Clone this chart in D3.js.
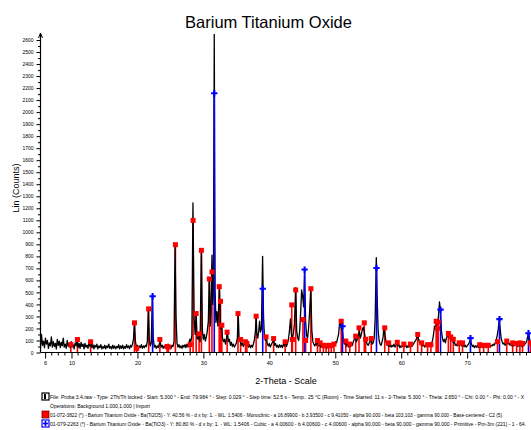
<!DOCTYPE html>
<html lang="en">
<head>
<meta charset="UTF-8">
<title>Barium Titanium Oxide</title>
<script src="https://d3js.org/d3.v7.min.js"></script>
<style>
  body { margin: 0; background: #fff; }
  text { font-family: "Liberation Sans", Arial, sans-serif; fill: #000; }
  .axis .domain { stroke: #000; stroke-width: 1.2; }
  .axis line { stroke: #000; }
</style>
</head>
<body>
<svg id="chart" width="531" height="430"></svg>
<script>
// measured scan: [2-theta, counts]
const scan = [
  [5.3,40],[5.45,150],[5.6,60],[5.75,95],[5.9,40],[6.05,120],[6.2,70],[6.35,100],[6.5,35],[6.65,80],[6.8,55],[6.95,130],
  [7.1,45],[7.25,90],[7.4,50],[7.55,75],[7.7,30],[7.85,110],[8.0,60],[8.15,95],[8.3,40],[8.45,85],[8.6,55],[8.75,120],
  [8.9,45],[9.05,70],[9.2,35],[9.35,100],[9.5,50],[9.65,75],[9.8,40],[9.95,90],[10.1,45],[10.25,65],[10.4,30],[10.55,80],
  [10.7,55],[10.85,110],[11.0,40],[11.15,75],[11.3,35],[11.45,85],[11.6,50],[11.75,70],[11.9,30],[12.05,75],[12.2,45],
  [12.35,60],[12.5,35],[12.65,90],[12.8,50],[12.95,95],[13.1,40],[13.25,65],[13.4,30],[13.55,60],[13.7,45],[13.85,70],
  [14.0,30],[14.15,55],[14.3,40],[14.45,65],[14.6,30],[14.75,50],[14.9,35],[15.05,60],[15.2,30],[15.35,55],[15.5,40],
  [15.65,70],[15.8,35],[15.95,50],[16.1,30],[16.25,60],[16.4,35],[16.55,55],[16.7,30],[16.85,50],[17.0,40],[17.15,65],
  [17.3,30],[17.45,55],[17.6,35],[17.75,60],[17.9,30],[18.05,50],[18.2,35],[18.35,65],[18.5,40],[18.65,55],[18.8,30],
  [18.95,60],[19.1,45],[19.25,70],[19.4,110],[19.55,250],[19.7,90],[19.85,40],[20.0,60],[20.15,35],[20.3,55],[20.45,40],
  [20.6,65],[20.75,35],[20.9,55],[21.05,40],[21.2,60],[21.35,50],[21.5,90],[21.65,370],[21.8,110],[21.95,55],[22.1,80],
  [22.25,455],[22.4,120],[22.55,45],[22.7,60],[22.85,35],[23.0,55],[23.15,40],[23.3,70],[23.45,90],[23.6,45],[23.75,60],
  [23.9,35],[24.05,55],[24.2,40],[24.35,60],[24.5,50],[24.65,70],[24.8,40],[24.95,55],[25.1,35],[25.25,60],[25.4,50],
  [25.55,90],[25.7,880],[25.85,300],[26.0,80],[26.15,45],[26.3,65],[26.45,40],[26.6,55],[26.75,35],[26.9,60],[27.05,45],
  [27.2,65],[27.35,40],[27.5,70],[27.65,45],[27.8,80],[27.95,110],[28.1,90],[28.25,140],[28.42,1245],[28.6,280],
  [28.75,150],[28.9,330],[29.05,120],[29.2,110],[29.35,160],[29.5,90],[29.7,860],[29.85,180],[30.0,110],[30.15,150],
  [30.3,95],[30.45,130],[30.6,180],[30.75,260],[30.9,620],[31.05,220],[31.15,330],[31.3,810],[31.42,400],[31.52,500],
  [31.65,2650],[31.78,520],[31.9,250],[32.05,340],[32.2,220],[32.35,420],[32.45,550],[32.6,200],[32.75,230],[32.9,120],
  [33.05,90],[33.2,110],[33.35,70],[33.5,120],[33.65,170],[33.8,90],[33.95,110],[34.1,60],[34.25,85],[34.4,50],[34.55,70],
  [34.7,45],[34.85,60],[35.0,80],[35.15,120],[35.28,330],[35.42,110],[35.6,90],[35.75,60],[35.9,80],[36.05,50],[36.2,70],
  [36.4,100],[36.55,60],[36.7,80],[36.85,45],[37.0,65],[37.15,40],[37.3,60],[37.45,45],[37.6,75],[37.75,110],[37.9,180],
  [38.0,310],[38.12,150],[38.25,120],[38.4,180],[38.52,260],[38.65,170],[38.8,200],[38.98,800],[39.12,300],[39.25,140],
  [39.4,100],[39.55,130],[39.7,70],[39.85,55],[40.0,75],[40.15,45],[40.3,65],[40.5,90],[40.65,120],[40.8,60],[40.95,75],
  [41.1,45],[41.25,60],[41.4,40],[41.55,65],[41.7,45],[41.85,60],[42.0,40],[42.15,70],[42.3,55],[42.45,90],[42.6,50],
  [42.75,75],[42.9,110],[43.05,180],[43.2,280],[43.35,150],[43.5,110],[43.65,160],[43.8,230],[44.0,540],[44.15,180],
  [44.3,120],[44.45,100],[44.6,180],[44.75,330],[44.9,520],[45.05,470],[45.2,380],[45.35,670],[45.5,260],[45.65,140],
  [45.8,120],[45.95,200],[46.1,330],[46.28,530],[46.45,180],[46.6,90],[46.75,70],[46.9,55],[47.05,75],[47.2,60],[47.35,95],
  [47.5,55],[47.65,70],[47.8,45],[47.95,60],[48.1,40],[48.25,65],[48.4,45],[48.55,55],[48.7,35],[48.85,60],[49.0,45],
  [49.15,55],[49.3,40],[49.45,65],[49.6,50],[49.75,70],[49.9,60],[50.05,90],[50.2,80],[50.35,120],[50.5,150],[50.65,240],
  [50.78,270],[50.92,200],[51.1,180],[51.25,90],[51.4,70],[51.55,90],[51.7,55],[51.85,70],[52.0,45],[52.15,65],[52.3,50],
  [52.45,80],[52.6,60],[52.75,95],[52.9,110],[53.05,130],[53.2,90],[53.35,110],[53.5,140],[53.65,180],[53.8,120],
  [53.95,150],[54.1,190],[54.25,210],[54.4,170],[54.55,120],[54.7,90],[54.85,70],[55.0,60],[55.15,80],[55.3,95],
  [55.45,110],[55.6,70],[55.75,80],[55.9,120],[56.05,280],[56.22,790],[56.38,400],[56.5,180],[56.65,100],[56.8,70],
  [56.95,60],[57.1,90],[57.25,130],[57.4,220],[57.55,140],[57.7,90],[57.85,60],[58.0,75],[58.15,50],[58.3,65],[58.45,45],
  [58.6,60],[58.75,50],[58.9,70],[59.05,45],[59.2,60],[59.35,85],[59.5,55],[59.65,65],[59.8,40],[59.95,55],[60.1,45],
  [60.25,60],[60.4,70],[60.55,50],[60.7,60],[60.85,40],[61.0,55],[61.15,45],[61.3,60],[61.45,70],[61.6,50],[61.75,60],
  [61.9,75],[62.05,90],[62.2,100],[62.35,120],[62.5,150],[62.65,110],[62.8,80],[62.95,70],[63.1,80],[63.25,55],[63.4,65],
  [63.55,45],[63.7,60],[63.85,50],[64.0,65],[64.15,50],[64.3,70],[64.45,60],[64.6,80],[64.75,100],[64.9,150],[65.05,220],
  [65.2,200],[65.35,260],[65.5,230],[65.65,300],[65.8,420],[65.95,350],[66.1,180],[66.25,120],[66.4,90],[66.55,110],
  [66.7,80],[66.85,120],[67.0,140],[67.15,150],[67.3,120],[67.45,130],[67.6,100],[67.75,110],[67.9,80],[68.05,90],
  [68.2,60],[68.35,70],[68.5,55],[68.65,70],[68.8,60],[68.95,80],[69.1,55],[69.25,75],[69.4,60],[69.55,50],[69.7,60],
  [69.85,45],[70.0,55],[70.15,65],[70.3,80],[70.5,110],[70.65,70],[70.8,50],[70.95,60],[71.1,40],[71.25,55],[71.4,45],
  [71.55,60],[71.7,40],[71.85,55],[72.0,45],[72.15,60],[72.3,40],[72.45,55],[72.6,45],[72.75,60],[72.9,40],[73.05,55],
  [73.2,50],[73.35,65],[73.5,45],[73.65,60],[73.8,55],[73.95,70],[74.1,60],[74.25,80],[74.4,100],[74.55,140],[74.7,190],
  [74.88,270],[75.0,200],[75.15,120],[75.3,90],[75.45,70],[75.6,80],[75.75,60],[75.9,75],[76.05,90],[76.2,70],[76.35,80],
  [76.5,60],[76.65,75],[76.8,55],[76.95,70],[77.1,55],[77.25,75],[77.4,60],[77.55,70],[77.7,50],[77.85,65],[78.0,55],
  [78.15,70],[78.3,50],[78.45,65],[78.6,55],[78.75,70],[78.9,80],[79.05,100],[79.2,140],[79.35,160],[79.5,100],
  [79.65,80],[79.8,60],[79.98,70]
];

// 01-072-3822 Ba(Ti2O5), monoclinic - stick pattern
const monoclinic = [
  [9.9,66],[10.9,108],[12.9,89],[19.55,247],[19.9,35],[21.7,363],[23.4,108],[24.5,50],[24.7,45],[25.76,897],[28.0,66],
  [28.44,1099],[28.9,324],[29.35,155],[29.7,850],[30.9,612],[31.3,670],[32.4,548],[32.6,426],[32.8,227],[33.6,169],
  [35.25,324],[35.65,108],[36.4,89],[36.6,75],[38.0,302],[39.5,130],[40.65,116],[42.4,89],[43.4,396],[43.5,108],[44.0,520],
  [45.1,274],[45.5,100],[46.3,531],[47.3,100],[47.7,80],[48.2,60],[48.6,55],[49.0,60],[49.4,58],[49.8,70],[50.9,260],
  [51.6,95],[52.2,70],[53.1,136],[53.6,205],[54.4,247],[54.6,110],[55.45,116],[57.5,205],[58.1,80],[59.4,85],[60.4,70],
  [61.4,70],[62.5,150],[63.1,80],[64.0,65],[64.5,65],[65.3,260],[65.5,202],[65.6,252],[67.15,158],[67.5,130],[67.9,110],
  [68.8,80],[69.3,80],[71.9,65],[72.5,60],[73.2,60],[74.6,90],[76.0,95],[76.9,80],[77.5,75],[78.0,80],[78.4,75],[79.6,80]
];

// 01-079-2263 BaTiO3, cubic - stick pattern
const cubic = [
  [22.3,468],[31.65,2157],[39.0,531],[45.35,690],[51.1,218],[56.25,703],[65.96,357],[70.5,120],[74.9,278],[79.3,160]
];

const yTicks = d3.range(0, 2601, 100);
const yMinor = d3.range(50, 2600, 100);
const xLabels = [6, 10, 20, 30, 40, 50, 60, 70];
const xMinor = d3.range(6, 80, 1);

const legendLines = [
  "File: Proba 3.4.raw - Type: 2Th/Th locked - Start: 5.300 \u00b0 - End: 79.984 \u00b0 - Step: 0.029 \u00b0 - Step time: 52.5 s - Temp.: 25 \u00b0C (Room) - Time Started: 11 s - 2-Theta: 5.300 \u00b0 - Theta: 2.650 \u00b0 - Chi: 0.00 \u00b0 - Phi: 0.00 \u00b0 - X",
  "Operations: Background 1.000,1.000 | Import",
  "01-072-3822 (*) - Barium Titanium Oxide - Ba(Ti2O5) - Y: 40.56 % - d x by: 1. - WL: 1.5406 - Monoclinic - a 16.89900 - b 3.93500 - c 9.41050 - alpha 90.000 - beta 103.103 - gamma 90.000 - Base-centered - C2 (5)",
  "01-079-2263 (*) - Barium Titanium Oxide - Ba(TiO3) - Y: 80.80 % - d x by: 1. - WL: 1.5406 - Cubic - a 4.00600 - b 4.00600 - c 4.00600 - alpha 90.000 - beta 90.000 - gamma 90.000 - Primitive - Pm-3m (221) - 1 - 64."
];

const svg = d3.select("#chart");
const x = d3.scaleLinear().domain([5.3, 79.984]).range([40.5, 533]);
const y = d3.scaleLinear().domain([0, 2600]).range([352.5, 40]);

svg.append("defs").append("clipPath").attr("id", "plotClip")
  .append("rect").attr("x", 40).attr("y", 34).attr("width", 495).attr("height", 320);

// title
svg.append("text").attr("x", 268.5).attr("y", 28).attr("text-anchor", "middle")
  .style("font-size", "16.5px").text("Barium Titanium Oxide");

const plot = svg.append("g").attr("clip-path", "url(#plotClip)");

// red sticks (under the scan)
plot.selectAll("line.mono").data(monoclinic).join("line")
  .attr("class", "mono")
  .attr("x1", d => x(d[0])).attr("x2", d => x(d[0]))
  .attr("y1", y(0)).attr("y2", d => y(d[1]))
  .attr("stroke", "#ff0000").attr("stroke-width", 1.6);

// scan
const line = d3.line().x(d => x(d[0])).y(d => y(d[1]));
plot.append("path").datum(scan)
  .attr("fill", "none").attr("stroke", "#000").attr("stroke-width", 1.3)
  .attr("stroke-linejoin", "round").attr("d", line);

// blue sticks
plot.selectAll("line.cub").data(cubic).join("line")
  .attr("class", "cub")
  .attr("x1", d => x(d[0])).attr("x2", d => x(d[0]))
  .attr("y1", y(0)).attr("y2", d => y(d[1]))
  .attr("stroke", "#0000ff").attr("stroke-width", 1.6);

// markers
plot.selectAll("rect.mono").data(monoclinic).join("rect")
  .attr("class", "mono")
  .attr("x", d => x(d[0]) - 2.5).attr("y", d => y(d[1]) - 2.5)
  .attr("width", 5).attr("height", 5).attr("fill", "#ff0000");

plot.selectAll("path.cub").data(cubic).join("path")
  .attr("class", "cub")
  .attr("d", d3.symbol().type(d3.symbolCross).size(22))
  .attr("transform", d => `translate(${x(d[0])},${y(d[1])})`)
  .attr("fill", "#0000ff");

// y axis
const yAxis = d3.axisLeft(y).tickValues(yTicks).tickSize(4).tickSizeOuter(0).tickPadding(3)
  .tickFormat(d3.format("d"));
const yG = svg.append("g").attr("class", "axis").attr("transform", "translate(40.5,0)").call(yAxis);
yG.select(".domain").attr("d", `M0,${y(0)}V34`);
yG.selectAll("text").style("font-size", "5px");
yG.selectAll("line.minor").data(yMinor).join("line").attr("class", "minor")
  .attr("x1", -2.5).attr("x2", 0).attr("y1", d => y(d) + 0.5).attr("y2", d => y(d) + 0.5).attr("stroke", "#000");
yG.append("path").attr("d", "M-2,38L0,33L2,38").attr("fill", "none").attr("stroke", "#000");

svg.append("text").attr("transform", "translate(19,188) rotate(-90)")
  .attr("text-anchor", "middle").style("font-size", "9px").text("Lin (Counts)");

// x axis
const xAxis = d3.axisBottom(x).tickValues(xLabels).tickSize(6).tickSizeOuter(0).tickPadding(3)
  .tickFormat(d3.format("d"));
const xG = svg.append("g").attr("class", "axis").attr("transform", `translate(0,${y(0)})`).call(xAxis);
xG.select(".domain").attr("d", "M40.5,0H531");
xG.selectAll("text").style("font-size", "5.5px");
xG.selectAll("line.minor").data(xMinor.filter(v => !xLabels.includes(v))).join("line").attr("class", "minor")
  .attr("x1", d => x(d)).attr("x2", d => x(d)).attr("y1", 0).attr("y2", 3).attr("stroke", "#000");

svg.append("text").attr("x", 286).attr("y", 384).attr("text-anchor", "middle")
  .style("font-size", "9px").text("2-Theta - Scale");

// legend
const lg = svg.append("g");
const rowY = [397, 406, 415, 424];
const rowLen = [474, 100, 452, 476];
legendLines.forEach((t, i) => {
  lg.append("text").attr("x", 50).attr("y", rowY[i] + 2)
    .attr("textLength", rowLen[i]).attr("lengthAdjust", "spacingAndGlyphs")
    .style("font-size", "5px").text(t);
});
// icons
lg.append("rect").attr("x", 42).attr("y", rowY[0] - 4).attr("width", 7).attr("height", 7)
  .attr("fill", "#fff").attr("stroke", "#000").attr("stroke-width", 1.2);
lg.append("rect").attr("x", 44).attr("y", rowY[0] - 3).attr("width", 2).attr("height", 5).attr("fill", "#000");
lg.append("rect").attr("x", 42).attr("y", rowY[2] - 4).attr("width", 7).attr("height", 7)
  .attr("fill", "#ff0000").attr("stroke", "#800000").attr("stroke-width", 0.8);
lg.append("rect").attr("x", 42).attr("y", rowY[3] - 4).attr("width", 7).attr("height", 7)
  .attr("fill", "#fff").attr("stroke", "#0000ff").attr("stroke-width", 1.2);
lg.append("path").attr("d", d3.symbol().type(d3.symbolCross).size(14))
  .attr("transform", `translate(45.5,${rowY[3] - 0.5})`).attr("fill", "#0000ff");
</script>
</body>
</html>
